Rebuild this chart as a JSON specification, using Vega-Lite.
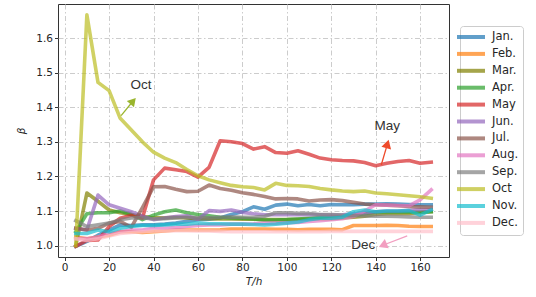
{
"$schema": "https://vega.github.io/schema/vega-lite/v6.json",
"width": 391, "height": 253,
"autosize": {"type": "none"},
"padding": {"left": 58, "top": 4, "right": 87, "bottom": 40},
"background": "white",
"config": {
  "font": "DejaVu Sans",
  "view": {"stroke": "#333333", "strokeWidth": 1},
  "axis": {"domain": false, "grid": true, "gridColor": "#cccccc", "gridDash": [5, 2.5, 1.5, 2.5], "gridWidth": 1, "tickColor": "#333333", "tickSize": 3.5, "labelColor": "#262626", "labelFontSize": 10.5, "labelFont": "DejaVu Sans", "titleFont": "DejaVu Sans", "titleFontWeight": "normal", "titleFontStyle": "italic", "titleFontSize": 10.5, "titleColor": "#262626", "labelPadding": 2},
  "legend": {"orient": "none", "legendX": 402, "legendY": 22, "fillColor": "white", "strokeColor": "#cccccc", "cornerRadius": 3, "padding": 4, "labelFontSize": 11.5, "labelColor": "#262626", "labelFont": "DejaVu Sans", "symbolType": "M-2.8,0H2.8", "symbolSize": 100, "symbolStrokeWidth": 4, "symbolOpacity": 0.7, "labelOffset": 14, "rowPadding": 0.9}
},
"datasets": {
  "ann": [
    {"name": "Oct", "tx": 34.4, "ty": 1.465, "x1": 25.4, "y1": 1.376, "x2": 30.8, "y2": 1.418, "angle": 41},
    {"name": "May", "tx": 145.2, "ty": 1.346, "x1": 142.5, "y1": 1.233, "x2": 145.3, "y2": 1.294, "angle": 16},
    {"name": "Dec", "tx": 134.4, "ty": 1.002, "x1": 154.2, "y1": 1.028, "x2": 143.2, "y2": 1.001, "angle": 247}
  ]
},
"data": {"values": [
{"m":"Jan.","T":5,"b":0.998},{"m":"Jan.","T":10,"b":1.012},{"m":"Jan.","T":15,"b":1.03},{"m":"Jan.","T":20,"b":1.045},{"m":"Jan.","T":25,"b":1.06},{"m":"Jan.","T":30,"b":1.058},{"m":"Jan.","T":35,"b":1.06},{"m":"Jan.","T":40,"b":1.06},{"m":"Jan.","T":45,"b":1.062},{"m":"Jan.","T":50,"b":1.065},{"m":"Jan.","T":55,"b":1.07},{"m":"Jan.","T":60,"b":1.075},{"m":"Jan.","T":65,"b":1.076},{"m":"Jan.","T":70,"b":1.08},{"m":"Jan.","T":75,"b":1.09},{"m":"Jan.","T":80,"b":1.098},{"m":"Jan.","T":85,"b":1.112},{"m":"Jan.","T":90,"b":1.105},{"m":"Jan.","T":95,"b":1.117},{"m":"Jan.","T":100,"b":1.12},{"m":"Jan.","T":105,"b":1.115},{"m":"Jan.","T":110,"b":1.119},{"m":"Jan.","T":115,"b":1.115},{"m":"Jan.","T":120,"b":1.119},{"m":"Jan.","T":125,"b":1.118},{"m":"Jan.","T":130,"b":1.118},{"m":"Jan.","T":135,"b":1.12},{"m":"Jan.","T":140,"b":1.12},{"m":"Jan.","T":145,"b":1.121},{"m":"Jan.","T":150,"b":1.12},{"m":"Jan.","T":155,"b":1.119},{"m":"Jan.","T":160,"b":1.118},{"m":"Jan.","T":165,"b":1.118},
{"m":"Feb.","T":5,"b":1.025},{"m":"Feb.","T":10,"b":1.02},{"m":"Feb.","T":15,"b":1.025},{"m":"Feb.","T":20,"b":1.03},{"m":"Feb.","T":25,"b":1.04},{"m":"Feb.","T":30,"b":1.04},{"m":"Feb.","T":35,"b":1.038},{"m":"Feb.","T":40,"b":1.04},{"m":"Feb.","T":45,"b":1.042},{"m":"Feb.","T":50,"b":1.045},{"m":"Feb.","T":55,"b":1.045},{"m":"Feb.","T":60,"b":1.045},{"m":"Feb.","T":65,"b":1.045},{"m":"Feb.","T":70,"b":1.046},{"m":"Feb.","T":75,"b":1.048},{"m":"Feb.","T":80,"b":1.048},{"m":"Feb.","T":85,"b":1.048},{"m":"Feb.","T":90,"b":1.048},{"m":"Feb.","T":95,"b":1.047},{"m":"Feb.","T":100,"b":1.047},{"m":"Feb.","T":105,"b":1.046},{"m":"Feb.","T":110,"b":1.047},{"m":"Feb.","T":115,"b":1.047},{"m":"Feb.","T":120,"b":1.047},{"m":"Feb.","T":125,"b":1.046},{"m":"Feb.","T":130,"b":1.058},{"m":"Feb.","T":135,"b":1.058},{"m":"Feb.","T":140,"b":1.058},{"m":"Feb.","T":145,"b":1.059},{"m":"Feb.","T":150,"b":1.058},{"m":"Feb.","T":155,"b":1.056},{"m":"Feb.","T":160,"b":1.055},{"m":"Feb.","T":165,"b":1.055},
{"m":"Mar.","T":5,"b":1.0},{"m":"Mar.","T":10,"b":1.152},{"m":"Mar.","T":15,"b":1.128},{"m":"Mar.","T":20,"b":1.103},{"m":"Mar.","T":25,"b":1.095},{"m":"Mar.","T":30,"b":1.09},{"m":"Mar.","T":35,"b":1.085},{"m":"Mar.","T":40,"b":1.08},{"m":"Mar.","T":45,"b":1.08},{"m":"Mar.","T":50,"b":1.082},{"m":"Mar.","T":55,"b":1.08},{"m":"Mar.","T":60,"b":1.078},{"m":"Mar.","T":65,"b":1.078},{"m":"Mar.","T":70,"b":1.077},{"m":"Mar.","T":75,"b":1.077},{"m":"Mar.","T":80,"b":1.076},{"m":"Mar.","T":85,"b":1.076},{"m":"Mar.","T":90,"b":1.075},{"m":"Mar.","T":95,"b":1.075},{"m":"Mar.","T":100,"b":1.075},{"m":"Mar.","T":105,"b":1.076},{"m":"Mar.","T":110,"b":1.077},{"m":"Mar.","T":115,"b":1.078},{"m":"Mar.","T":120,"b":1.078},{"m":"Mar.","T":125,"b":1.08},{"m":"Mar.","T":130,"b":1.082},{"m":"Mar.","T":135,"b":1.085},{"m":"Mar.","T":140,"b":1.09},{"m":"Mar.","T":145,"b":1.092},{"m":"Mar.","T":150,"b":1.092},{"m":"Mar.","T":155,"b":1.093},{"m":"Mar.","T":160,"b":1.095},{"m":"Mar.","T":165,"b":1.098},
{"m":"Apr.","T":5,"b":1.04},{"m":"Apr.","T":10,"b":1.092},{"m":"Apr.","T":15,"b":1.095},{"m":"Apr.","T":20,"b":1.095},{"m":"Apr.","T":25,"b":1.1},{"m":"Apr.","T":30,"b":1.09},{"m":"Apr.","T":35,"b":1.075},{"m":"Apr.","T":40,"b":1.088},{"m":"Apr.","T":45,"b":1.098},{"m":"Apr.","T":50,"b":1.103},{"m":"Apr.","T":55,"b":1.095},{"m":"Apr.","T":60,"b":1.09},{"m":"Apr.","T":65,"b":1.086},{"m":"Apr.","T":70,"b":1.082},{"m":"Apr.","T":75,"b":1.08},{"m":"Apr.","T":80,"b":1.079},{"m":"Apr.","T":85,"b":1.077},{"m":"Apr.","T":90,"b":1.074},{"m":"Apr.","T":95,"b":1.074},{"m":"Apr.","T":100,"b":1.075},{"m":"Apr.","T":105,"b":1.077},{"m":"Apr.","T":110,"b":1.079},{"m":"Apr.","T":115,"b":1.081},{"m":"Apr.","T":120,"b":1.082},{"m":"Apr.","T":125,"b":1.083},{"m":"Apr.","T":130,"b":1.087},{"m":"Apr.","T":135,"b":1.092},{"m":"Apr.","T":140,"b":1.097},{"m":"Apr.","T":145,"b":1.097},{"m":"Apr.","T":150,"b":1.097},{"m":"Apr.","T":155,"b":1.097},{"m":"Apr.","T":160,"b":1.097},{"m":"Apr.","T":165,"b":1.098},
{"m":"May","T":5,"b":0.998},{"m":"May","T":10,"b":1.015},{"m":"May","T":15,"b":1.016},{"m":"May","T":20,"b":1.055},{"m":"May","T":25,"b":1.079},{"m":"May","T":30,"b":1.088},{"m":"May","T":35,"b":1.08},{"m":"May","T":40,"b":1.19},{"m":"May","T":45,"b":1.224},{"m":"May","T":50,"b":1.219},{"m":"May","T":55,"b":1.214},{"m":"May","T":60,"b":1.198},{"m":"May","T":65,"b":1.226},{"m":"May","T":70,"b":1.303},{"m":"May","T":75,"b":1.3},{"m":"May","T":80,"b":1.295},{"m":"May","T":85,"b":1.279},{"m":"May","T":90,"b":1.286},{"m":"May","T":95,"b":1.269},{"m":"May","T":100,"b":1.267},{"m":"May","T":105,"b":1.274},{"m":"May","T":110,"b":1.264},{"m":"May","T":115,"b":1.253},{"m":"May","T":120,"b":1.248},{"m":"May","T":125,"b":1.246},{"m":"May","T":130,"b":1.245},{"m":"May","T":135,"b":1.24},{"m":"May","T":140,"b":1.231},{"m":"May","T":145,"b":1.238},{"m":"May","T":150,"b":1.243},{"m":"May","T":155,"b":1.246},{"m":"May","T":160,"b":1.238},{"m":"May","T":165,"b":1.241},
{"m":"Jun.","T":5,"b":1.05},{"m":"Jun.","T":10,"b":1.045},{"m":"Jun.","T":15,"b":1.146},{"m":"Jun.","T":20,"b":1.118},{"m":"Jun.","T":25,"b":1.108},{"m":"Jun.","T":30,"b":1.098},{"m":"Jun.","T":35,"b":1.085},{"m":"Jun.","T":40,"b":1.075},{"m":"Jun.","T":45,"b":1.08},{"m":"Jun.","T":50,"b":1.084},{"m":"Jun.","T":55,"b":1.086},{"m":"Jun.","T":60,"b":1.076},{"m":"Jun.","T":65,"b":1.101},{"m":"Jun.","T":70,"b":1.099},{"m":"Jun.","T":75,"b":1.103},{"m":"Jun.","T":80,"b":1.096},{"m":"Jun.","T":85,"b":1.092},{"m":"Jun.","T":90,"b":1.089},{"m":"Jun.","T":95,"b":1.089},{"m":"Jun.","T":100,"b":1.09},{"m":"Jun.","T":105,"b":1.089},{"m":"Jun.","T":110,"b":1.09},{"m":"Jun.","T":115,"b":1.089},{"m":"Jun.","T":120,"b":1.088},{"m":"Jun.","T":125,"b":1.089},{"m":"Jun.","T":130,"b":1.092},{"m":"Jun.","T":135,"b":1.095},{"m":"Jun.","T":140,"b":1.098},{"m":"Jun.","T":145,"b":1.1},{"m":"Jun.","T":150,"b":1.1},{"m":"Jun.","T":155,"b":1.102},{"m":"Jun.","T":160,"b":1.104},{"m":"Jun.","T":165,"b":1.105},
{"m":"Jul.","T":5,"b":1.05},{"m":"Jul.","T":10,"b":1.045},{"m":"Jul.","T":15,"b":1.05},{"m":"Jul.","T":20,"b":1.065},{"m":"Jul.","T":25,"b":1.07},{"m":"Jul.","T":30,"b":1.053},{"m":"Jul.","T":35,"b":1.11},{"m":"Jul.","T":40,"b":1.17},{"m":"Jul.","T":45,"b":1.171},{"m":"Jul.","T":50,"b":1.163},{"m":"Jul.","T":55,"b":1.156},{"m":"Jul.","T":60,"b":1.157},{"m":"Jul.","T":65,"b":1.175},{"m":"Jul.","T":70,"b":1.165},{"m":"Jul.","T":75,"b":1.16},{"m":"Jul.","T":80,"b":1.153},{"m":"Jul.","T":85,"b":1.148},{"m":"Jul.","T":90,"b":1.142},{"m":"Jul.","T":95,"b":1.135},{"m":"Jul.","T":100,"b":1.136},{"m":"Jul.","T":105,"b":1.135},{"m":"Jul.","T":110,"b":1.129},{"m":"Jul.","T":115,"b":1.132},{"m":"Jul.","T":120,"b":1.133},{"m":"Jul.","T":125,"b":1.13},{"m":"Jul.","T":130,"b":1.125},{"m":"Jul.","T":135,"b":1.12},{"m":"Jul.","T":140,"b":1.118},{"m":"Jul.","T":145,"b":1.117},{"m":"Jul.","T":150,"b":1.115},{"m":"Jul.","T":155,"b":1.113},{"m":"Jul.","T":160,"b":1.112},{"m":"Jul.","T":165,"b":1.111},
{"m":"Aug.","T":5,"b":1.02},{"m":"Aug.","T":10,"b":1.02},{"m":"Aug.","T":15,"b":1.025},{"m":"Aug.","T":20,"b":1.035},{"m":"Aug.","T":25,"b":1.04},{"m":"Aug.","T":30,"b":1.045},{"m":"Aug.","T":35,"b":1.045},{"m":"Aug.","T":40,"b":1.05},{"m":"Aug.","T":45,"b":1.05},{"m":"Aug.","T":50,"b":1.052},{"m":"Aug.","T":55,"b":1.055},{"m":"Aug.","T":60,"b":1.058},{"m":"Aug.","T":65,"b":1.06},{"m":"Aug.","T":70,"b":1.06},{"m":"Aug.","T":75,"b":1.062},{"m":"Aug.","T":80,"b":1.062},{"m":"Aug.","T":85,"b":1.063},{"m":"Aug.","T":90,"b":1.065},{"m":"Aug.","T":95,"b":1.065},{"m":"Aug.","T":100,"b":1.066},{"m":"Aug.","T":105,"b":1.067},{"m":"Aug.","T":110,"b":1.07},{"m":"Aug.","T":115,"b":1.072},{"m":"Aug.","T":120,"b":1.075},{"m":"Aug.","T":125,"b":1.078},{"m":"Aug.","T":130,"b":1.084},{"m":"Aug.","T":135,"b":1.1},{"m":"Aug.","T":140,"b":1.118},{"m":"Aug.","T":145,"b":1.117},{"m":"Aug.","T":150,"b":1.116},{"m":"Aug.","T":155,"b":1.115},{"m":"Aug.","T":160,"b":1.132},{"m":"Aug.","T":165,"b":1.161},
{"m":"Sep.","T":5,"b":1.072},{"m":"Sep.","T":10,"b":1.055},{"m":"Sep.","T":15,"b":1.06},{"m":"Sep.","T":20,"b":1.065},{"m":"Sep.","T":25,"b":1.075},{"m":"Sep.","T":30,"b":1.08},{"m":"Sep.","T":35,"b":1.08},{"m":"Sep.","T":40,"b":1.077},{"m":"Sep.","T":45,"b":1.078},{"m":"Sep.","T":50,"b":1.08},{"m":"Sep.","T":55,"b":1.082},{"m":"Sep.","T":60,"b":1.08},{"m":"Sep.","T":65,"b":1.08},{"m":"Sep.","T":70,"b":1.082},{"m":"Sep.","T":75,"b":1.083},{"m":"Sep.","T":80,"b":1.082},{"m":"Sep.","T":85,"b":1.082},{"m":"Sep.","T":90,"b":1.085},{"m":"Sep.","T":95,"b":1.095},{"m":"Sep.","T":100,"b":1.095},{"m":"Sep.","T":105,"b":1.093},{"m":"Sep.","T":110,"b":1.093},{"m":"Sep.","T":115,"b":1.09},{"m":"Sep.","T":120,"b":1.09},{"m":"Sep.","T":125,"b":1.088},{"m":"Sep.","T":130,"b":1.087},{"m":"Sep.","T":135,"b":1.086},{"m":"Sep.","T":140,"b":1.085},{"m":"Sep.","T":145,"b":1.085},{"m":"Sep.","T":150,"b":1.084},{"m":"Sep.","T":155,"b":1.083},{"m":"Sep.","T":160,"b":1.082},{"m":"Sep.","T":165,"b":1.082},
{"m":"Oct","T":5,"b":1.0},{"m":"Oct","T":10,"b":1.667},{"m":"Oct","T":15,"b":1.472},{"m":"Oct","T":20,"b":1.448},{"m":"Oct","T":25,"b":1.368},{"m":"Oct","T":30,"b":1.334},{"m":"Oct","T":35,"b":1.3},{"m":"Oct","T":40,"b":1.27},{"m":"Oct","T":45,"b":1.253},{"m":"Oct","T":50,"b":1.24},{"m":"Oct","T":55,"b":1.22},{"m":"Oct","T":60,"b":1.202},{"m":"Oct","T":65,"b":1.19},{"m":"Oct","T":70,"b":1.182},{"m":"Oct","T":75,"b":1.174},{"m":"Oct","T":80,"b":1.17},{"m":"Oct","T":85,"b":1.168},{"m":"Oct","T":90,"b":1.161},{"m":"Oct","T":95,"b":1.18},{"m":"Oct","T":100,"b":1.174},{"m":"Oct","T":105,"b":1.173},{"m":"Oct","T":110,"b":1.171},{"m":"Oct","T":115,"b":1.165},{"m":"Oct","T":120,"b":1.161},{"m":"Oct","T":125,"b":1.158},{"m":"Oct","T":130,"b":1.156},{"m":"Oct","T":135,"b":1.158},{"m":"Oct","T":140,"b":1.152},{"m":"Oct","T":145,"b":1.15},{"m":"Oct","T":150,"b":1.147},{"m":"Oct","T":155,"b":1.144},{"m":"Oct","T":160,"b":1.141},{"m":"Oct","T":165,"b":1.137},
{"m":"Nov.","T":5,"b":1.035},{"m":"Nov.","T":10,"b":1.035},{"m":"Nov.","T":15,"b":1.045},{"m":"Nov.","T":20,"b":1.04},{"m":"Nov.","T":25,"b":1.05},{"m":"Nov.","T":30,"b":1.055},{"m":"Nov.","T":35,"b":1.058},{"m":"Nov.","T":40,"b":1.058},{"m":"Nov.","T":45,"b":1.06},{"m":"Nov.","T":50,"b":1.062},{"m":"Nov.","T":55,"b":1.062},{"m":"Nov.","T":60,"b":1.065},{"m":"Nov.","T":65,"b":1.063},{"m":"Nov.","T":70,"b":1.063},{"m":"Nov.","T":75,"b":1.062},{"m":"Nov.","T":80,"b":1.062},{"m":"Nov.","T":85,"b":1.061},{"m":"Nov.","T":90,"b":1.06},{"m":"Nov.","T":95,"b":1.062},{"m":"Nov.","T":100,"b":1.065},{"m":"Nov.","T":105,"b":1.068},{"m":"Nov.","T":110,"b":1.075},{"m":"Nov.","T":115,"b":1.079},{"m":"Nov.","T":120,"b":1.079},{"m":"Nov.","T":125,"b":1.082},{"m":"Nov.","T":130,"b":1.098},{"m":"Nov.","T":135,"b":1.103},{"m":"Nov.","T":140,"b":1.098},{"m":"Nov.","T":145,"b":1.1},{"m":"Nov.","T":150,"b":1.1},{"m":"Nov.","T":155,"b":1.101},{"m":"Nov.","T":160,"b":1.088},{"m":"Nov.","T":165,"b":1.103},
{"m":"Dec.","T":5,"b":1.02},{"m":"Dec.","T":10,"b":1.015},{"m":"Dec.","T":15,"b":1.02},{"m":"Dec.","T":20,"b":1.028},{"m":"Dec.","T":25,"b":1.035},{"m":"Dec.","T":30,"b":1.038},{"m":"Dec.","T":35,"b":1.04},{"m":"Dec.","T":40,"b":1.042},{"m":"Dec.","T":45,"b":1.042},{"m":"Dec.","T":50,"b":1.043},{"m":"Dec.","T":55,"b":1.043},{"m":"Dec.","T":60,"b":1.042},{"m":"Dec.","T":65,"b":1.042},{"m":"Dec.","T":70,"b":1.041},{"m":"Dec.","T":75,"b":1.04},{"m":"Dec.","T":80,"b":1.04},{"m":"Dec.","T":85,"b":1.04},{"m":"Dec.","T":90,"b":1.04},{"m":"Dec.","T":95,"b":1.04},{"m":"Dec.","T":100,"b":1.04},{"m":"Dec.","T":105,"b":1.04},{"m":"Dec.","T":110,"b":1.04},{"m":"Dec.","T":115,"b":1.04},{"m":"Dec.","T":120,"b":1.041},{"m":"Dec.","T":125,"b":1.041},{"m":"Dec.","T":130,"b":1.041},{"m":"Dec.","T":135,"b":1.041},{"m":"Dec.","T":140,"b":1.041},{"m":"Dec.","T":145,"b":1.041},{"m":"Dec.","T":150,"b":1.041},{"m":"Dec.","T":155,"b":1.041},{"m":"Dec.","T":160,"b":1.041},{"m":"Dec.","T":165,"b":1.041}
]},
"encoding": {
  "x": {"field": "T", "type": "quantitative", "scale": {"domain": [-3, 173], "nice": false, "zero": false}, "axis": {"values": [0, 20, 40, 60, 80, 100, 120, 140, 160], "title": "T/h", "titlePadding": 3}},
  "y": {"field": "b", "type": "quantitative", "scale": {"domain": [0.967, 1.6985], "nice": false, "zero": false}, "axis": {"values": [1.0, 1.1, 1.2, 1.3, 1.4, 1.5, 1.6], "format": ".1f", "title": "β", "titlePadding": 9}}
},
"layer": [
  {"mark": {"type": "line", "strokeWidth": 3.6, "opacity": 0.7, "strokeJoin": "round", "strokeCap": "square", "clip": true},
   "encoding": {"color": {"field": "m", "type": "nominal", "sort": ["Jan.","Feb.","Mar.","Apr.","May","Jun.","Jul.","Aug.","Sep.","Oct","Nov.","Dec."], "scale": {"domain": ["Jan.","Feb.","Mar.","Apr.","May","Jun.","Jul.","Aug.","Sep.","Oct","Nov.","Dec."], "range": ["#1f77b4","#ff7f0e","#808000","#2ca02c","#d62728","#9467bd","#8c564b","#e377c2","#7f7f7f","#bcbd22","#17becf","#ffc0cb"]}, "legend": {"title": null}}}},
  {"data": {"name": "ann"}, "transform": [{"filter": "datum.name == 'Oct'"}], "mark": {"type": "rule", "color": "#9ab52e", "strokeWidth": 1.3}, "encoding": {"x": {"field": "x1", "type": "quantitative"}, "y": {"field": "y1", "type": "quantitative"}, "x2": {"field": "x2"}, "y2": {"field": "y2"}}},
  {"data": {"name": "ann"}, "transform": [{"filter": "datum.name == 'May'"}], "mark": {"type": "rule", "color": "#ee4a2a", "strokeWidth": 1.3}, "encoding": {"x": {"field": "x1", "type": "quantitative"}, "y": {"field": "y1", "type": "quantitative"}, "x2": {"field": "x2"}, "y2": {"field": "y2"}}},
  {"data": {"name": "ann"}, "transform": [{"filter": "datum.name == 'Dec'"}], "mark": {"type": "rule", "color": "#f29ec0", "strokeWidth": 1.3}, "encoding": {"x": {"field": "x1", "type": "quantitative"}, "y": {"field": "y1", "type": "quantitative"}, "x2": {"field": "x2"}, "y2": {"field": "y2"}}},
  {"data": {"name": "ann"}, "transform": [{"filter": "datum.name == 'Oct'"}], "mark": {"type": "point", "shape": "triangle-up", "filled": true, "color": "#9ab52e", "opacity": 1, "size": 90}, "encoding": {"x": {"field": "x2", "type": "quantitative"}, "y": {"field": "y2", "type": "quantitative"}, "angle": {"field": "angle", "type": "quantitative", "scale": null}}},
  {"data": {"name": "ann"}, "transform": [{"filter": "datum.name == 'May'"}], "mark": {"type": "point", "shape": "triangle-up", "filled": true, "color": "#ee4a2a", "opacity": 1, "size": 100}, "encoding": {"x": {"field": "x2", "type": "quantitative"}, "y": {"field": "y2", "type": "quantitative"}, "angle": {"field": "angle", "type": "quantitative", "scale": null}}},
  {"data": {"name": "ann"}, "transform": [{"filter": "datum.name == 'Dec'"}], "mark": {"type": "point", "shape": "triangle-up", "filled": true, "color": "#f29ec0", "opacity": 1, "size": 100}, "encoding": {"x": {"field": "x2", "type": "quantitative"}, "y": {"field": "y2", "type": "quantitative"}, "angle": {"field": "angle", "type": "quantitative", "scale": null}}},
  {"data": {"name": "ann"}, "mark": {"type": "text", "font": "Liberation Sans", "fontSize": 13.5, "color": "#333333", "align": "center", "baseline": "middle"}, "encoding": {"x": {"field": "tx", "type": "quantitative"}, "y": {"field": "ty", "type": "quantitative"}, "text": {"field": "name"}}}
]
}
